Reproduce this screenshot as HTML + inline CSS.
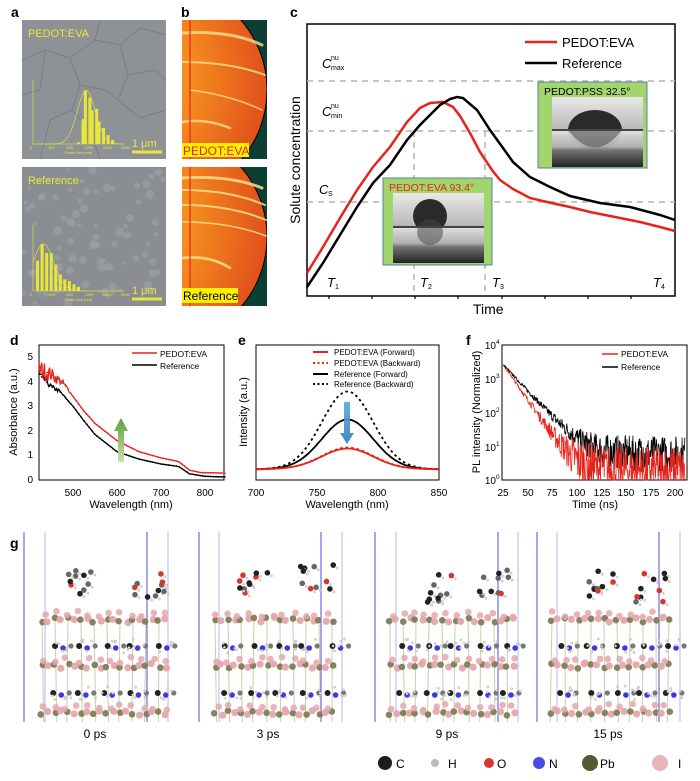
<!DOCTYPE html>
<html><head><meta charset="utf-8">
<style>
html,body{margin:0;padding:0;background:#fff;}
svg{display:block;font-family:"Liberation Sans",Arial,sans-serif;}
</style></head>
<body>
<svg id="s" width="700" height="781" viewBox="0 0 700 781" xmlns="http://www.w3.org/2000/svg">
<defs>
<radialGradient id="or" cx="0.25" cy="0.45" r="0.9">
<stop offset="0" stop-color="#f9bd30"/><stop offset="0.5" stop-color="#f2841e"/><stop offset="1" stop-color="#d9361a"/>
</radialGradient>
<clipPath id="cb1"><rect x="182" y="20" width="85" height="139"/></clipPath>
<clipPath id="cb2"><rect x="182" y="167" width="85" height="139"/></clipPath>
<clipPath id="ca2"><rect x="22" y="167" width="144" height="139"/></clipPath>
<linearGradient id="drop" x1="0" y1="0" x2="0" y2="1"><stop offset="0" stop-color="#e8e8e8"/><stop offset="0.45" stop-color="#bbb"/><stop offset="0.55" stop-color="#777"/><stop offset="1" stop-color="#222"/></linearGradient>
<linearGradient id="ga" x1="0" y1="0" x2="0" y2="1"><stop offset="0" stop-color="#5aa7e0"/><stop offset="1" stop-color="#2f78c0"/></linearGradient>
<linearGradient id="gg" x1="0" y1="1" x2="0" y2="0"><stop offset="0" stop-color="#c8e0b0"/><stop offset="1" stop-color="#5e9e3a"/></linearGradient>
</defs>

<g font-weight="bold" font-size="14" fill="#000">
<text x="11" y="17">a</text><text x="181" y="17">b</text><text x="290" y="17">c</text>
<text x="10" y="345">d</text><text x="238" y="345">e</text><text x="466" y="345">f</text>
<text x="10" y="548">g</text>
</g>

<!-- panel a -->
<rect x="22" y="20" width="144" height="139" fill="#8e9297"/>
<g stroke="#767a7f" stroke-width="1" fill="none" opacity="0.8">
<path d="M22 60 L45 50 L70 58 L95 40 L120 45 L140 28 L166 35 M70 58 L80 85 L72 110 L90 130 L100 159 M95 40 L100 20 M120 45 L128 75 L118 100 L140 118 L166 110 M128 75 L155 70 L166 80 M80 85 L105 90 L118 100 M45 50 L40 90 L22 95 M72 110 L50 120 L40 159"/>
</g>
<rect x="22" y="167" width="144" height="139" fill="#8a8e92"/>
<g id="grainsB" clip-path="url(#ca2)"></g>
<g fill="#e8e63a" stroke="#e8e63a" font-size="11">
<text x="28" y="37" stroke="none">PEDOT:EVA</text>
<text x="28" y="184" stroke="none">Reference</text>
<text x="132" y="147" stroke="none" font-size="11">1 μm</text>
<line x1="132" y1="152" x2="162" y2="152" stroke-width="3"/>
<text x="132" y="294" stroke="none" font-size="11">1 μm</text>
<line x1="132" y1="299" x2="162" y2="299" stroke-width="3"/>
</g>
<g id="hist" stroke="#e8e63a" fill="#e8e63a" font-size="4"></g>

<!-- panel b -->
<g clip-path="url(#cb1)">
<rect x="182" y="20" width="85" height="139" fill="#0c3f33"/>
<circle cx="160" cy="90" r="107" fill="url(#or)" stroke="#000" stroke-width="1"/>
<g fill="none" stroke="#fde08a" stroke-linecap="round" opacity="0.8">
<path d="M182 33 Q230 30 262 45" stroke-width="3"/>
<path d="M182 62 Q230 62 265 75" stroke-width="2"/>
<path d="M182 122 Q205 118 230 128" stroke-width="2.5"/>
<path d="M190 90 Q230 95 262 110" stroke-width="1.5"/>
</g>
</g>
<line x1="190" y1="20" x2="190" y2="159" stroke="#e8231a" stroke-width="1.2"/>
<rect x="182" y="143" width="67" height="14" fill="#ffef00"/>
<text x="183" y="155" font-size="12" fill="#e8231a">PEDOT:EVA</text>
<g clip-path="url(#cb2)">
<rect x="182" y="167" width="85" height="139" fill="#0c3f33"/>
<circle cx="160" cy="237" r="107" fill="url(#or)" stroke="#000" stroke-width="1"/>
<g fill="none" stroke="#fde08a" stroke-linecap="round" opacity="0.85">
<path d="M182 178 Q230 175 262 188" stroke-width="3"/>
<path d="M182 190 Q230 190 265 205" stroke-width="2"/>
<path d="M182 205 Q230 205 266 220" stroke-width="2"/>
<path d="M182 222 Q230 222 266 236" stroke-width="1.5"/>
<path d="M182 258 Q210 255 230 268" stroke-width="2.5"/>
</g>
</g>
<line x1="190" y1="167" x2="190" y2="306" stroke="#e8231a" stroke-width="1.2"/>
<rect x="182" y="288" width="56" height="15" fill="#ffef00"/>
<text x="183" y="300" font-size="12" fill="#000">Reference</text>

<!-- panel c -->
<rect x="307" y="24" width="368" height="272" fill="none" stroke="#000" stroke-width="1.5"/>
<g stroke="#b4b4b4" stroke-width="1.5" stroke-dasharray="6,5" fill="none">
<line x1="307" y1="81" x2="675" y2="81"/><line x1="307" y1="131" x2="675" y2="131"/><line x1="307" y1="202" x2="675" y2="202"/>
<line x1="414" y1="131" x2="414" y2="296"/><line x1="485" y1="131" x2="485" y2="296"/>
</g>
<g stroke="#000" stroke-width="1.2"><line x1="329" y1="296" x2="329" y2="299"/><line x1="372" y1="296" x2="372" y2="299"/><line x1="415" y1="296" x2="415" y2="299"/><line x1="458" y1="296" x2="458" y2="299"/><line x1="502" y1="296" x2="502" y2="299"/><line x1="545" y1="296" x2="545" y2="299"/><line x1="588" y1="296" x2="588" y2="299"/><line x1="631" y1="296" x2="631" y2="299"/></g>
<polyline fill="none" stroke="#e8231a" stroke-width="2.5" points="307,273 323,247 340,218 357,190 373,167 390,147 407,122 420,108 430,103 443,102 453,107 460,116 470,133 480,152 492,170 500,180 513,189 530,198 547,202 570,207 590,212 610,216 640,222 660,227 675,231"/>
<polyline fill="none" stroke="#000" stroke-width="2.5" points="307,287 323,263 340,235 357,207 373,183 390,165 407,140 420,125 430,115 440,105 450,99 457,97 463,98 477,110 490,130 503,148 513,162 530,177 550,187 570,196 600,203 630,207 660,215 675,220"/>
<line x1="525" y1="42" x2="557" y2="42" stroke="#e8231a" stroke-width="2.5"/>
<line x1="525" y1="63" x2="557" y2="63" stroke="#000" stroke-width="2.5"/>
<text x="562" y="47" font-size="13">PEDOT:EVA</text>
<text x="562" y="68" font-size="13">Reference</text>
<g font-size="13" font-style="italic">
<text x="322" y="68">C</text><text x="322" y="116">C</text><text x="319" y="194">C</text>
<text x="327" y="287">T</text><text x="420" y="287">T</text><text x="492" y="287">T</text><text x="653" y="287">T</text>
</g>
<g font-size="7"><text x="331" y="60">nu</text><text x="331" y="70">max</text><text x="331" y="108">nu</text><text x="331" y="118">min</text><text x="328" y="196">S</text>
<text x="335" y="289">1</text><text x="428" y="289">2</text><text x="500" y="289">3</text><text x="661" y="289">4</text></g>
<text x="473" y="314" font-size="14">Time</text>
<text transform="translate(300,160) rotate(-90)" text-anchor="middle" font-size="14">Solute concentration</text>
<rect x="538" y="82" width="109" height="86" fill="#a2d56c" stroke="#5a7fa8" stroke-width="1"/>
<text x="544" y="95" font-size="10.5" fill="#000">PEDOT:PSS 32.5°</text>
<rect x="552" y="97" width="91" height="70" fill="url(#drop)"/>
<ellipse cx="595" cy="130" rx="27" ry="20" fill="#2a2a2a"/>
<rect x="552" y="130" width="91" height="37" fill="url(#drop)" opacity="0.9"/>
<path d="M568 130 Q595 165 622 130Z" fill="#555" opacity="0.6"/>
<line x1="552" y1="130" x2="643" y2="130" stroke="#444" stroke-width="2"/>
<rect x="383" y="178" width="109" height="87" fill="#a2d56c" stroke="#5a7fa8" stroke-width="1"/>
<text x="389" y="191" font-size="10.5" fill="#e8231a">PEDOT:EVA 93.4°</text>
<rect x="393" y="193" width="91" height="70" fill="url(#drop)"/>
<circle cx="430" cy="216" r="17" fill="#2a2a2a"/>
<rect x="393" y="227" width="91" height="36" fill="url(#drop)" opacity="0.9"/>
<circle cx="430" cy="232" r="13" fill="#444" opacity="0.5"/>
<line x1="393" y1="227" x2="484" y2="227" stroke="#444" stroke-width="2"/>

<!-- panel d -->
<rect x="39" y="345" width="185" height="135" fill="none" stroke="#000" stroke-width="1"/>
<g id="dplot"></g>
<g font-size="10" text-anchor="end"><text x="33" y="360">5</text><text x="33" y="385">4</text><text x="33" y="409">3</text><text x="33" y="434">2</text><text x="33" y="458">1</text><text x="33" y="483">0</text></g>
<g font-size="10" text-anchor="middle"><text x="73" y="496">500</text><text x="117" y="496">600</text><text x="161" y="496">700</text><text x="205" y="496">800</text></g>
<text x="131" y="508" font-size="11" text-anchor="middle">Wavelength (nm)</text>
<text transform="translate(17,412) rotate(-90)" text-anchor="middle" font-size="11">Absorbance (a.u.)</text>
<line x1="132" y1="353" x2="157" y2="353" stroke="#e8231a" stroke-width="1.5"/>
<line x1="132" y1="365" x2="157" y2="365" stroke="#000" stroke-width="1.5"/>
<text x="160" y="357" font-size="8.5">PEDOT:EVA</text><text x="160" y="369" font-size="8.5">Reference</text>
<path d="M118 462 L118 431 L114 431 L121 418 L128 431 L124 431 L124 462Z" fill="url(#gg)"/>

<!-- panel e -->
<rect x="256" y="345" width="183" height="135" fill="none" stroke="#000" stroke-width="1"/>
<g id="eplot"></g>
<g font-size="10" text-anchor="middle"><text x="256" y="496">700</text><text x="317" y="496">750</text><text x="378" y="496">800</text><text x="439" y="496">850</text></g>
<text x="347" y="508" font-size="11" text-anchor="middle">Wavelength (nm)</text>
<text transform="translate(247,412) rotate(-90)" text-anchor="middle" font-size="11">Intensity (a.u.)</text>
<g stroke-width="2"><line x1="313" y1="352" x2="328" y2="352" stroke="#e8231a"/><line x1="313" y1="363" x2="328" y2="363" stroke="#e8231a" stroke-dasharray="2,2.5"/><line x1="313" y1="374" x2="328" y2="374" stroke="#000"/><line x1="313" y1="384" x2="328" y2="384" stroke="#000" stroke-dasharray="2,2.5"/></g>
<g font-size="8"><text x="334" y="355">PEDOT:EVA (Forward)</text><text x="334" y="366">PEDOT:EVA (Backward)</text><text x="334" y="377">Reference (Forward)</text><text x="334" y="387">Reference (Backward)</text></g>
<path d="M344 402 L350 402 L350 433 L354 433 L347 444 L340 433 L344 433Z" fill="url(#ga)" opacity="0.9"/>

<!-- panel f -->
<rect x="502" y="345" width="185" height="135" fill="none" stroke="#000" stroke-width="1"/>
<g id="fplot"></g>
<g font-size="10" text-anchor="end"><text x="496" y="349">10</text><text x="496" y="383">10</text><text x="496" y="417">10</text><text x="496" y="451">10</text><text x="496" y="484">10</text></g>
<g font-size="6.5"><text x="496" y="344">4</text><text x="496" y="378">3</text><text x="496" y="412">2</text><text x="496" y="446">1</text><text x="496" y="479">0</text></g>
<g font-size="10" text-anchor="middle"><text x="503" y="496">25</text><text x="528" y="496">50</text><text x="552" y="496">75</text><text x="577" y="496">100</text><text x="602" y="496">125</text><text x="626" y="496">150</text><text x="651" y="496">175</text><text x="675" y="496">200</text></g>
<text x="595" y="508" font-size="11" text-anchor="middle">Time (ns)</text>
<text transform="translate(480,412) rotate(-90)" text-anchor="middle" font-size="11">PL intensity (Normalized)</text>
<line x1="602" y1="354" x2="618" y2="354" stroke="#e8231a" stroke-width="1.5"/>
<line x1="602" y1="367" x2="618" y2="367" stroke="#000" stroke-width="1.5"/>
<text x="621" y="357" font-size="8.5">PEDOT:EVA</text><text x="621" y="370" font-size="8.5">Reference</text>

<!-- panel g -->
<g id="gplot"></g>
<g font-size="12" text-anchor="middle"><text x="95" y="738">0 ps</text><text x="268" y="738">3 ps</text><text x="447" y="738">9 ps</text><text x="608" y="738">15 ps</text></g>
<g><circle cx="385" cy="763" r="7" fill="#1d1d1d"/><circle cx="435" cy="763" r="4" fill="#bbb"/><circle cx="489" cy="763" r="5" fill="#d8352f"/><circle cx="539" cy="763" r="6" fill="#4a4ee0"/><circle cx="590" cy="763" r="8" fill="#555a35"/><circle cx="660" cy="763" r="8" fill="#e9b4b8"/></g>
<g font-size="12"><text x="396" y="768">C</text><text x="448" y="768">H</text><text x="497" y="768">O</text><text x="549" y="768">N</text><text x="600" y="768">Pb</text><text x="678" y="768">I</text></g>
</svg>
<script>
(function(){
var NS="http://www.w3.org/2000/svg";
function el(p,t,a){var e=document.createElementNS(NS,t);for(var k in a)e.setAttribute(k,a[k]);p.appendChild(e);return e;}
var seed=7;function rnd(){seed=(seed*16807)%2147483647;return (seed-1)/2147483646;}
function g(id){return document.getElementById(id);}
var gb=g('grainsB');
for(var i=0;i<90;i++){el(gb,'circle',{cx:24+rnd()*140,cy:169+rnd()*135,r:1.5+rnd()*3,fill:'#a0a4a8',opacity:0.55});}
var h=g('hist');
function hist(x0,y0,y1,bars,mu,sg){
 var w=91,hh=y1-y0;
 el(h,'line',{x1:x0,y1:y0,x2:x0,y2:y1,'stroke-width':0.6});
 el(h,'line',{x1:x0,y1:y1,x2:x0+w,y2:y1,'stroke-width':0.6});
 for(var i=0;i<bars.length;i++){var v=bars[i][1];var bx=x0+bars[i][0]/2000*w;el(h,'rect',{x:bx-1.5,y:y1-v/80*hh,width:3,height:v/80*hh,stroke:'none'});}
 var mx=Math.max.apply(null,bars.map(function(b){return b[1]}));
 var pts=[];for(var s=0;s<=2000;s+=25){var v=mx*Math.exp(-Math.pow(s-mu,2)/(2*sg*sg));pts.push((x0+s/2000*w).toFixed(1)+','+(y1-v/80*hh).toFixed(1));}
 el(h,'polyline',{points:pts.join(' '),fill:'none','stroke-width':0.6});
 var lb=['0','400','800','1200','1600','2000'];for(var k=0;k<6;k++){var t=el(h,'text',{x:x0+k*400/2000*w-3,y:y1+5,stroke:'none'});t.textContent=lb[k];}
 var t2=el(h,'text',{x:x0+32,y:y1+10,stroke:'none'});t2.textContent='Grain size (nm)';
}
hist(33,80,144,[[1000,2],[1100,31],[1150,67],[1250,58],[1300,42],[1400,44],[1450,28],[1550,20],[1650,11],[1750,5]],1170,200);
hist(33,225,291,[[100,37],[200,57],[300,46],[400,46],[500,32],[600,20],[700,14],[800,12],[900,8],[1000,5]],230,230);
var d=g('dplot');
function dmap(w,a){return [73+(w-500)*0.44,480-a*24.6];}
function interp(pts,w){for(var i=0;i<pts.length-1;i++){if(w>=pts[i][0]&&w<=pts[i+1][0]){var t=(w-pts[i][0])/(pts[i+1][0]-pts[i][0]);return pts[i][1]+t*(pts[i+1][1]-pts[i][1]);}}return pts[pts.length-1][1];}
var R=[[423,4.5],[450,4.3],[480,3.9],[500,3.4],[525,2.8],[550,2.3],[600,1.6],[650,1.15],[700,0.9],[740,0.75],[765,0.4],[790,0.3],[848,0.28]];
var B=[[423,4.3],[450,3.8],[470,3.6],[500,3.0],[525,2.4],[550,1.85],[600,1.15],[650,0.85],[700,0.65],[740,0.55],[765,0.25],[800,0.15],[848,0.12]];
function dline(P,c,nz){var pts=[];for(var w=423;w<=848;w+=2){var a=interp(P,w);if(w<500)a+=(rnd()-0.5)*nz*(500-w)/60;var p=dmap(w,a);pts.push(p[0].toFixed(1)+','+p[1].toFixed(1));}
 el(d,'polyline',{points:pts.join(' '),fill:'none',stroke:c,'stroke-width':1.3});
 for(var w=423;w<=848;w+=6){var p=dmap(w,interp(P,w));el(d,'circle',{cx:p[0],cy:p[1],r:0.9,fill:c});}}
dline(B,'#000',0.25);dline(R,'#e8231a',0.7);
var e=g('eplot');
function eline(amp,c,dash){var pts=[];for(var w=700;w<=850;w+=1){var v=amp*Math.exp(-Math.pow(w-775,2)/(2*21*21))+1.5*Math.exp(-Math.pow(w-775,2)/(2*60*60));pts.push((256+(w-700)*183/150).toFixed(1)+','+(470-v).toFixed(1));}
 var a={points:pts.join(' '),fill:'none',stroke:c,'stroke-width':1.8};if(dash)a['stroke-dasharray']=dash;el(e,'polyline',a);}
eline(77,'#000','2.5,3');eline(49,'#000');eline(21,'#e8231a','2.5,3');eline(20,'#e8231a');
var f=g('fplot');
function fline(tau,floor,c){var pts=[];for(var t=25;t<=210;t+=0.4){var I=2500*Math.exp(-(t-25)/tau)+floor;var L=Math.log(I)/Math.LN10;var amp=1.3/Math.sqrt(I);L+=(rnd()-0.5)*2*Math.min(amp,0.7);if(L<0)L=0;if(L>4)L=4;pts.push((503+(t-25)*24.6/25).toFixed(1)+','+(480-L*34).toFixed(1));}
 el(f,'polyline',{points:pts.join(' '),fill:'none',stroke:c,'stroke-width':0.8});}
fline(14,6,'#000');fline(10.5,2,'#e8231a');
var G=g('gplot');
var lines=[[24,1],[45,0.4],[147,1],[168,0.4],[199,1],[219,0.4],[321,1],[342,0.4],[375,1],[396,0.4],[498,1],[518,0.4],[537,1],[557,0.4],[659,1],[680,0.4]];
lines.forEach(function(l){el(G,'line',{x1:l[0],y1:532,x2:l[0],y2:722,stroke:'#6a6ae8','stroke-width':1.2,opacity:l[1]});});
var xs=[[27,168],[200,333],[375,520],[537,670]];
xs.forEach(function(r,pi){
 var x0=r[0]+15,x1=r[1];
 for(var x=x0;x<x1;x+=13){el(G,'line',{x1:x,y1:620,x2:x+(rnd()-0.5)*4,y2:722,stroke:'#b8b88a','stroke-width':1,opacity:0.7});}
 [620,666,713].forEach(function(y){
  for(var x=x0;x<x1;x+=6.5){var pb=((x-x0)/6.5)%2<1;el(G,'circle',{cx:x+(rnd()-0.5)*3,cy:y+(rnd()-0.5)*5,r:pb?3.3:3.6,fill:pb?'#7d7d55':'#e4a7ad',opacity:0.95});}
  for(var x=x0;x<x1;x+=11){el(G,'circle',{cx:x+rnd()*4,cy:y-6+(rnd()-0.5)*6,r:3.3,fill:'#e4a7ad',opacity:0.85});}
 });
 [646,693].forEach(function(y){
  for(var x=x0+8;x<x1;x+=26){var cx=x+rnd()*6;el(G,'circle',{cx:cx,cy:y,r:3,fill:'#222'});el(G,'circle',{cx:cx+8,cy:y+2,r:2.8,fill:'#3a3ae0'});el(G,'circle',{cx:cx+16,cy:y,r:2.6,fill:'#777'});
   for(var k=0;k<5;k++)el(G,'circle',{cx:cx+rnd()*20-2,cy:y+(rnd()-0.5)*14,r:1.2,fill:'#ddd',stroke:'#999','stroke-width':0.3});}
 });
 for(var m=0;m<2;m++){var mx=x0+15+m*60+rnd()*15,my=578+rnd()*10;
  for(var k=0;k<10;k++){var ax=mx+rnd()*35,ay=my+(rnd()-0.5)*30;
   el(G,'circle',{cx:ax,cy:ay,r:2.8,fill:rnd()<0.2?'#d8352f':(rnd()<0.5?'#222':'#666')});
   el(G,'circle',{cx:ax+4,cy:ay+3,r:1.2,fill:'#ddd',stroke:'#999','stroke-width':0.3});}}
});
})();
</script>
</body></html>
